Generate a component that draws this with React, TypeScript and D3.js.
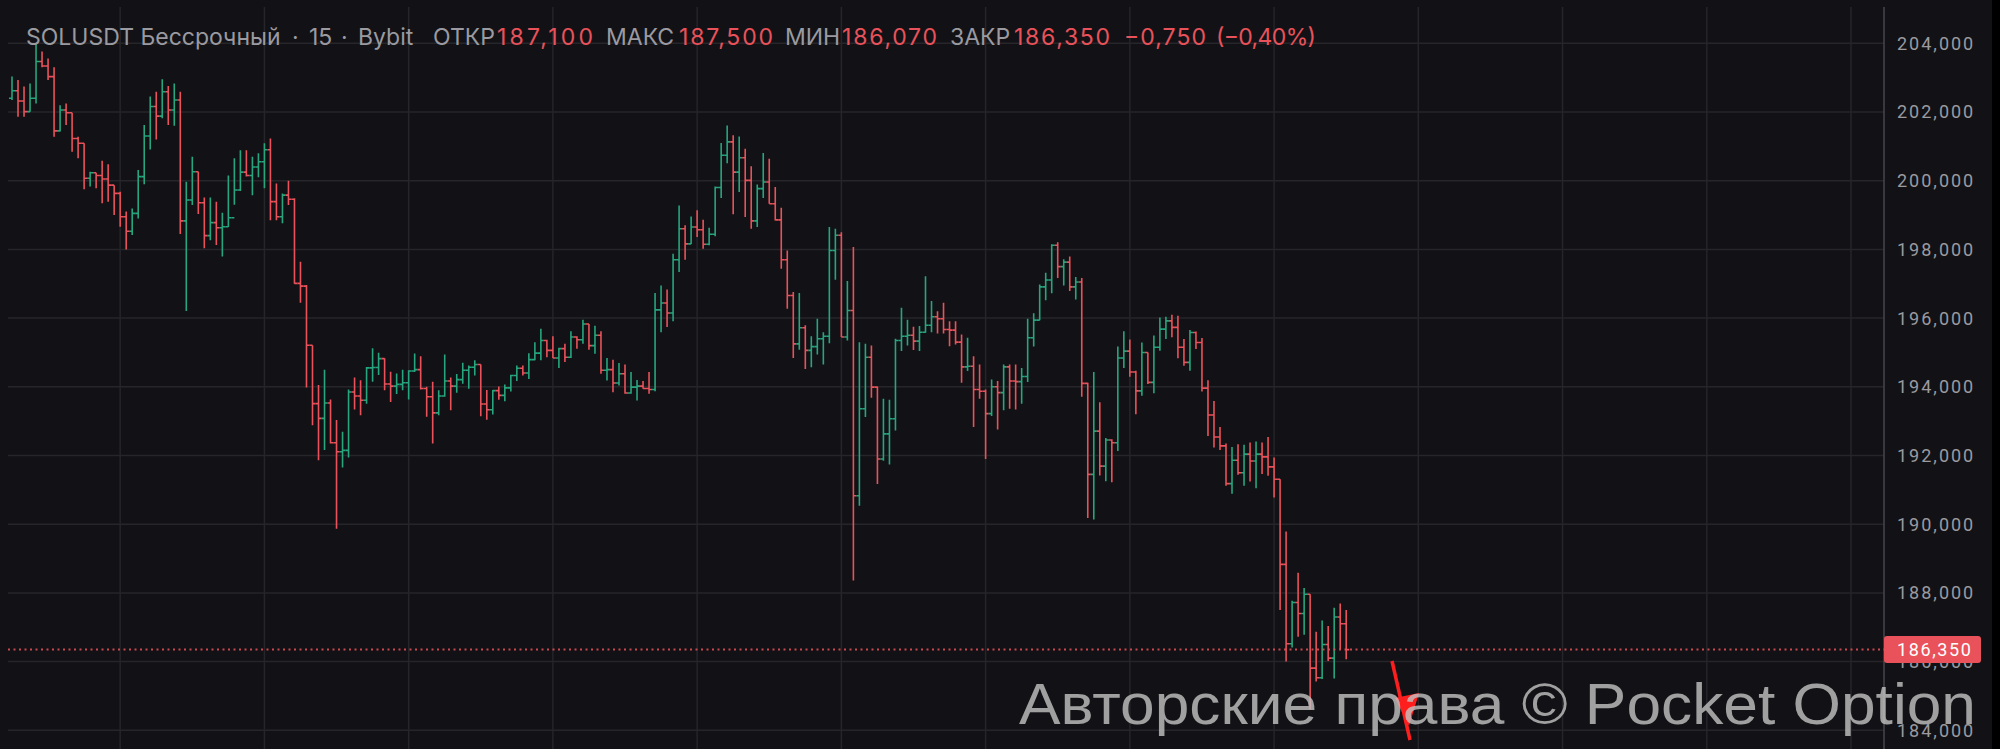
import React from 'react';
import * as d3 from 'd3';

// ---------- DATA ----------
const opens = [
  202.40,202.62,202.32,202.01,202.40,203.47,203.34,203.03,201.45,202.06,
  201.98,201.23,201.09,200.07,200.23,200.15,200.05,199.87,199.63,198.95,
  198.53,199.05,200.12,201.30,202.16,201.88,202.59,202.06,202.35,198.83,
  199.44,200.26,199.36,198.40,198.78,198.63,198.66,198.92,199.73,200.25,
  200.15,200.40,200.55,200.90,199.39,198.95,199.58,199.46,197.01,196.93,
  195.21,193.51,193.08,193.53,192.37,192.11,192.15,193.85,193.73,193.61,
  194.55,194.56,194.82,194.08,194.02,194.07,194.12,194.46,194.50,193.95,
  193.71,193.24,193.73,194.17,194.02,194.21,194.48,194.57,194.65,193.50,
  193.33,193.89,193.75,193.97,194.33,194.54,194.40,194.79,194.98,195.35,
  195.06,194.84,195.11,194.86,195.45,195.37,195.83,195.20,195.50,194.48,
  194.50,194.11,194.38,193.82,193.99,194.02,193.95,193.92,196.24,196.44,
  196.15,197.70,198.60,198.16,198.65,198.57,198.15,198.44,199.80,200.74,
  201.13,200.25,200.67,200.01,198.83,199.77,199.96,199.33,198.86,197.70,
  196.66,195.25,195.72,195.06,195.17,195.40,195.47,197.97,198.41,195.45,
  196.22,190.83,193.36,194.86,193.99,191.90,192.63,193.07,195.35,195.47,
  195.50,195.33,195.59,195.79,196.04,195.98,195.67,195.65,195.30,194.58,
  194.60,193.92,193.87,193.22,194.00,193.83,194.58,194.17,194.15,194.30,
  195.43,195.94,196.91,197.11,198.12,197.50,197.63,196.91,197.05,194.10,
  191.45,192.71,191.69,192.45,192.37,194.84,195.04,194.43,193.88,195.00,
  194.13,195.15,195.68,195.92,195.73,195.15,194.71,195.58,195.29,193.96,
  193.18,192.54,192.28,191.18,191.86,191.50,192.04,191.84,192.04,191.96,
  191.67,191.31,188.83,186.52,187.72,187.40,187.96,185.81,185.53,186.50,
  186.10,187.30,187.10,
];
const highs = [
  203.03,202.93,202.74,202.83,204.00,203.76,203.56,203.30,202.20,202.25,
  201.98,201.28,201.09,200.26,200.23,200.58,200.48,199.87,199.68,199.10,
  199.19,200.31,201.62,202.45,202.59,202.95,202.76,202.83,202.59,199.97,
  200.70,200.26,199.51,199.51,199.39,199.07,200.15,200.65,200.89,200.89,
  200.70,200.80,201.09,201.23,199.92,199.63,200.00,199.49,197.64,196.96,
  195.21,194.05,194.50,193.63,193.03,192.69,193.92,194.27,194.19,194.58,
  195.12,194.99,194.83,194.44,194.39,194.50,194.48,194.97,194.89,194.00,
  194.15,193.90,194.94,194.27,194.37,194.70,194.62,194.77,194.65,193.91,
  193.91,194.01,194.07,194.35,194.62,194.62,194.98,195.30,195.69,195.37,
  195.47,195.14,195.25,195.62,195.47,195.95,195.83,195.78,195.62,194.84,
  194.79,194.69,194.65,194.43,194.20,194.17,194.43,196.73,196.95,196.83,
  197.87,199.28,198.70,198.96,199.14,198.86,198.63,199.83,201.10,201.61,
  201.32,201.29,200.93,200.42,199.89,200.81,200.64,199.82,199.21,197.97,
  196.76,196.73,195.79,195.47,195.98,195.59,198.65,198.60,198.50,197.08,
  198.07,195.30,195.25,195.20,194.01,193.65,193.62,195.40,196.30,195.95,
  195.75,195.77,197.22,196.50,196.20,196.45,195.91,195.91,195.52,195.43,
  194.89,194.65,193.92,194.21,194.17,194.65,194.65,194.65,194.55,195.98,
  196.14,196.98,197.32,198.15,198.21,197.71,197.79,197.20,197.17,194.12,
  194.43,193.55,192.51,192.47,195.17,195.62,195.38,194.47,195.29,195.00,
  195.49,196.02,196.04,196.10,196.07,195.39,195.65,195.61,195.42,194.19,
  193.59,192.83,192.35,192.25,192.33,192.31,192.38,192.41,192.38,192.54,
  191.94,191.31,189.79,187.77,188.59,188.14,187.96,186.87,187.20,187.04,
  187.57,187.69,187.50,
];
const lows = [
  202.35,201.86,201.86,202.01,202.25,203.30,202.93,201.28,201.43,201.62,
  200.84,200.65,199.75,199.83,199.78,199.34,199.39,199.00,198.66,198.00,
  198.42,198.90,199.90,200.91,201.20,201.82,201.62,201.60,198.45,196.21,
  199.29,199.03,198.03,198.27,198.13,197.79,198.65,199.30,199.70,200.12,
  199.58,200.10,199.78,198.85,198.85,198.76,199.29,197.00,196.45,193.98,
  192.88,191.86,192.16,192.35,189.87,191.65,191.94,193.34,193.17,193.51,
  194.15,194.34,193.90,193.56,193.79,193.90,193.63,194.43,193.92,193.13,
  192.35,193.17,193.71,193.32,193.83,194.09,193.94,194.33,193.14,193.04,
  193.19,193.62,193.58,193.86,194.17,194.33,194.23,194.77,194.77,194.86,
  194.84,194.55,194.72,194.84,195.11,195.25,195.08,194.96,194.38,194.18,
  193.84,194.04,193.80,193.80,193.60,193.94,193.80,193.87,195.59,195.74,
  195.91,197.34,197.70,198.16,198.36,198.02,198.12,198.38,199.50,200.51,
  199.02,199.67,198.94,198.60,198.65,199.50,199.33,198.84,197.44,196.27,
  194.84,195.08,194.52,194.57,194.94,194.65,195.27,197.12,195.45,195.35,
  188.36,190.54,193.12,193.68,191.17,191.85,191.74,192.73,195.04,195.20,
  195.07,195.04,195.57,195.59,195.55,195.55,195.18,195.23,194.12,194.46,
  192.83,193.65,191.90,193.15,192.76,193.32,193.36,193.34,193.51,194.14,
  195.17,195.94,196.52,196.72,197.17,196.95,196.79,196.54,193.71,190.18,
  190.14,191.42,191.25,191.22,192.13,194.55,194.29,193.20,193.74,194.08,
  193.81,195.05,195.39,195.44,194.83,194.61,194.47,195.10,193.86,192.57,
  192.23,192.16,191.12,190.89,191.44,191.12,191.24,191.05,191.46,191.41,
  190.78,187.50,186.00,186.41,186.72,186.78,184.61,185.42,185.49,186.02,
  185.51,186.36,186.07,
];
const closes = [
  202.62,202.32,202.01,202.40,203.47,203.34,203.03,201.45,202.06,201.98,
  201.23,201.09,200.07,200.23,200.15,200.05,199.87,199.63,198.95,198.53,
  199.05,200.12,201.30,202.16,201.88,202.59,202.06,202.35,198.83,199.44,
  200.26,199.36,198.40,198.78,198.63,198.66,198.92,199.73,200.25,200.15,
  200.40,200.55,200.90,199.39,198.95,199.58,199.46,197.01,196.93,195.21,
  193.51,193.08,193.53,192.37,192.11,192.15,193.85,193.73,193.61,194.55,
  194.56,194.82,194.08,194.02,194.07,194.12,194.46,194.50,193.95,193.71,
  193.24,193.73,194.17,194.02,194.21,194.48,194.57,194.65,193.50,193.33,
  193.89,193.75,193.97,194.33,194.54,194.40,194.79,194.98,195.35,195.06,
  194.84,195.11,194.86,195.45,195.37,195.83,195.20,195.50,194.48,194.50,
  194.11,194.38,193.82,193.99,194.02,193.95,193.92,196.24,196.44,196.15,
  197.70,198.60,198.16,198.65,198.57,198.15,198.44,199.80,200.74,201.13,
  200.25,200.67,200.01,198.83,199.77,199.96,199.33,198.86,197.70,196.66,
  195.25,195.72,195.06,195.17,195.40,195.47,197.97,198.41,195.45,196.22,
  190.83,193.36,194.86,193.99,191.90,192.63,193.07,195.35,195.47,195.50,
  195.33,195.59,195.79,196.04,195.98,195.67,195.65,195.30,194.58,194.60,
  193.92,193.87,193.22,194.00,193.83,194.58,194.17,194.15,194.30,195.43,
  195.94,196.91,197.11,198.12,197.50,197.63,196.91,197.05,194.10,191.45,
  192.71,191.69,192.45,192.37,194.84,195.04,194.43,193.88,195.00,194.13,
  195.15,195.68,195.92,195.73,195.15,194.71,195.58,195.29,193.96,193.18,
  192.54,192.28,191.18,191.86,191.50,192.04,191.84,192.04,191.96,191.67,
  191.31,188.83,186.52,187.72,187.40,187.96,185.81,185.53,186.50,186.10,
  187.30,187.10,186.35,
];

const yTicks = [204, 202, 200, 198, 196, 194, 192, 190, 188, 186, 184];
const lastPrice = 186.35;

const titleParts = [
  'SOLUSDT Бессрочный', '·', '15', '·', 'Bybit',
  'ОТКР', '187,100', 'МАКС', '187,500', 'МИН', '186,070', 'ЗАКР', '186,350',
  '−0,750', '(−0,40%)',
];
const titleIsValue = [false, false, false, false, false, false, true, false, true, false, true, false, true, true, true];
const watermarkText = 'Авторские права © Pocket Option';

// ---------- LAYOUT / STYLE ----------
const W = 2000, H = 749;
const BG = '#121216';
const GRID = '#25252a';
const RED = '#e9525a';
const GREEN = '#27a57c';
const TXT = '#9a9aa0';
const paneRight = 1884;
const titleX = [26, 292, 309, 341, 358, 433, 497, 606, 679, 785, 842, 950, 1014, 1124, 1216];
const titleLen = [0, 0, 0, 0, 0, 0, 96, 0, 94, 0, 95, 0, 96, 82, 100];

const ru = d3.formatLocale({ decimal: ',', thousands: ' ', grouping: [3], currency: ['', ''] });
const fmt = (v: number) => ru.format('.3f')(v);

export default function App() {
  const y = d3.scaleLinear().domain([184, 204]).range([730.3, 43.3]);
  const x = d3.scaleLinear().domain([0, opens.length - 1]).range([12, 1346.2]);
  const step = x(1) - x(0);
  const vGridIdx = d3.range(18, 18 + 24 * 13, 24);

  const bars = opens.map((o, i) => {
    const cx = x(i);
    const p = d3.path();
    p.moveTo(cx, y(highs[i]));
    p.lineTo(cx, y(lows[i]));
    p.moveTo(cx - step * 0.5, y(o));
    p.lineTo(cx, y(o));
    p.moveTo(cx, y(closes[i]));
    p.lineTo(cx + step * 0.5, y(closes[i]));
    return { d: p.toString(), up: closes[i] >= o };
  });

  const py = y(lastPrice);

  return (
    <svg width={W} height={H} style={{ position: 'fixed', left: 0, top: 0, display: 'block' }}>
      <rect x={0} y={0} width={W} height={H} fill={BG} />
      <rect x={1992} y={0} width={8} height={H} fill="#000" />
      {/* grid */}
      {vGridIdx.map((gi) => (
        <line key={'v' + gi} x1={x(gi)} x2={x(gi)} y1={7} y2={H} stroke={GRID} strokeWidth={1.5} />
      ))}
      {yTicks.map((t) => (
        <line key={'h' + t} x1={8} x2={paneRight} y1={y(t)} y2={y(t)} stroke={GRID} strokeWidth={1.5} />
      ))}
      <line x1={paneRight} x2={paneRight} y1={7} y2={H} stroke="#46464c" strokeWidth={1.5} />
      {/* bars */}
      <g fill="none" strokeWidth={1.6}>
        {bars.map((b, i) => (
          <path key={i} d={b.d} stroke={b.up ? GREEN : RED} />
        ))}
      </g>
      {/* last price line */}
      <line x1={8} x2={paneRight} y1={py} y2={py} stroke={RED} strokeWidth={2} strokeDasharray="2 3.5" opacity={0.85} />
      {/* y labels */}
      <g fontFamily="Roboto, sans-serif" fontSize={18} fill={TXT} letterSpacing={2}>
        {yTicks.map((t) => (
          <text key={'l' + t} x={1897} y={y(t)} dy="0.36em">{fmt(t)}</text>
        ))}
      </g>
      <rect x={1884} y={py - 13.5} width={97} height={27} rx={3} fill={RED} />
      <text x={1897} y={py} dy="0.36em" fontFamily="Roboto, sans-serif" fontSize={18} fill="#fff" letterSpacing={1.6}>
        {fmt(lastPrice)}
      </text>
      {/* title */}
      <g fontFamily="Inter, 'Noto Sans', sans-serif" fontSize={23}>
        {titleParts.map((t, i) => (
          <text key={'t' + i} x={titleX[i]} y={45} fill={titleIsValue[i] ? RED : TXT}
            {...(titleLen[i] ? { textLength: titleLen[i], lengthAdjust: 'spacing' } : {})}>{t}</text>
        ))}
      </g>
      {/* arrow */}
      <line x1={1392} y1={661} x2={1410} y2={740} stroke="#ff1e1e" strokeWidth={3.5} />
      <path d="M1395,698 L1419,693 L1409,726 Z" fill="#ff1e1e" />
      {/* watermark */}
      <text x={1019} y={724} fontFamily="'Liberation Sans', Arial, sans-serif" fontSize={58}
        fill="#c4c4c4" opacity={0.8} textLength={957} lengthAdjust="spacingAndGlyphs">
        {watermarkText}
      </text>
    </svg>
  );
}
